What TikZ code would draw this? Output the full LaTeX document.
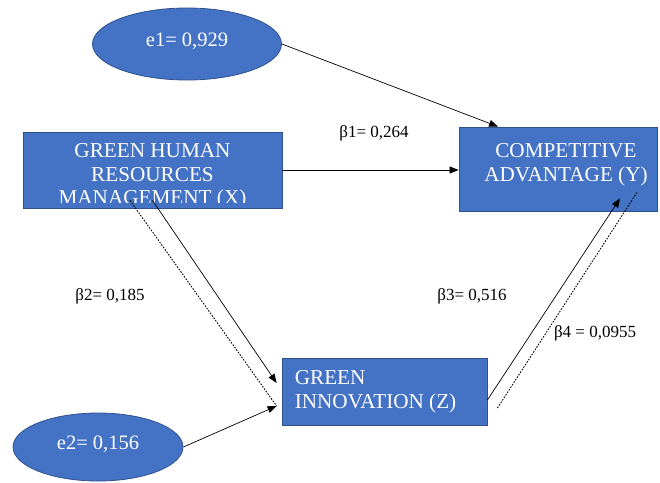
\documentclass[tikz,border=0pt]{standalone}
\usepackage{fontspec}
\setmainfont{Liberation Serif}
\usetikzlibrary{arrows.meta,shapes.geometric}

\definecolor{boxblue}{HTML}{4472C4}
\definecolor{boxline}{HTML}{2F528F}

\tikzset{
	blk/.style={draw=boxline,fill=boxblue,line width=0.8pt,inner sep=0pt},
	errnode/.style={blk,ellipse,text=white,font=\fontsize{20.5}{20.5}\selectfont,
		text height=11pt,text depth=7pt},
	boxtxt/.style={text=white,inner sep=0pt,font=\fontsize{21.2}{23.5}\selectfont},
	coef/.style={inner sep=0pt,anchor=base,font=\fontsize{17}{17}\selectfont},
	arr/.style={-{Triangle[length=9pt,width=7pt]},line width=0.7pt},
	dots/.style={dash pattern=on 1.6pt off 1.4pt,line width=0.9pt},
}

\begin{document}
\begin{tikzpicture}[x=1pt,y=-1pt]
\useasboundingbox (0,0) rectangle (660,482);

% error terms
\node[errnode,minimum width=189pt,minimum height=72pt] (e1) at (187,44) {e1= 0,929};
\node[errnode,minimum width=170pt,minimum height=68pt] (e2) at (98,447) {e2= 0,156};

% boxes
\node[blk,minimum width=259pt,minimum height=76pt] (X) at (152.5,170) {};
\node[blk,minimum width=198pt,minimum height=84pt] (Y) at (558,169) {};
\node[blk,minimum width=205pt,minimum height=67pt] (Z) at (384.5,391.5) {};

\begin{scope}
	\clip ([yshift=6pt]X.south west) rectangle (X.north east);
	\node[boxtxt,align=center] (Xtxt) at ([yshift=-6.6pt]X.center)
		{GREEN HUMAN\\RESOURCES\\MANAGEMENT (X)};
\end{scope}
\node[boxtxt,align=center] (Ytxt) at ([xshift=8pt,yshift=4.3pt]Y.center)
	{COMPETITIVE\\ADVANTAGE (Y)};
\node[boxtxt,align=left,anchor=west] (Ztxt) at ([xshift=13pt,yshift=-0.1pt]Z.west)
	{GREEN\\INNOVATION (Z)};

% paths
\draw[arr] (e1.east) -- ([xshift=-60pt]Y.north);
\draw[arr] (X.east) -- (X.east -| Y.west);
\draw[arr] ([yshift=8pt]X.south) -- ([xshift=-5pt,yshift=8.5pt]Z.west);
\draw[dots] ([xshift=-22.5pt,yshift=8pt]X.south) -- ([xshift=-5pt,yshift=-14.5pt]Z.west);
\draw[arr] (e2.east) -- ([xshift=-5pt,yshift=-14.5pt]Z.west);
\draw[arr] ([yshift=-8.5pt]Z.east) -- ([xshift=62pt,yshift=13pt]Y.south);
\draw[dots] ([xshift=10pt,yshift=-16.5pt]Z.east) -- ([xshift=79pt,yshift=19pt]Y.south);

% coefficients
\node[coef] (b1) at (374,137) {β1= 0,264};
\node[coef] (b2) at (110,300) {β2= 0,185};
\node[coef] (b3) at (472,300) {β3= 0,516};
\node[coef] (b4) at (595,337) {β4 = 0,0955};
\end{tikzpicture}
\end{document}
